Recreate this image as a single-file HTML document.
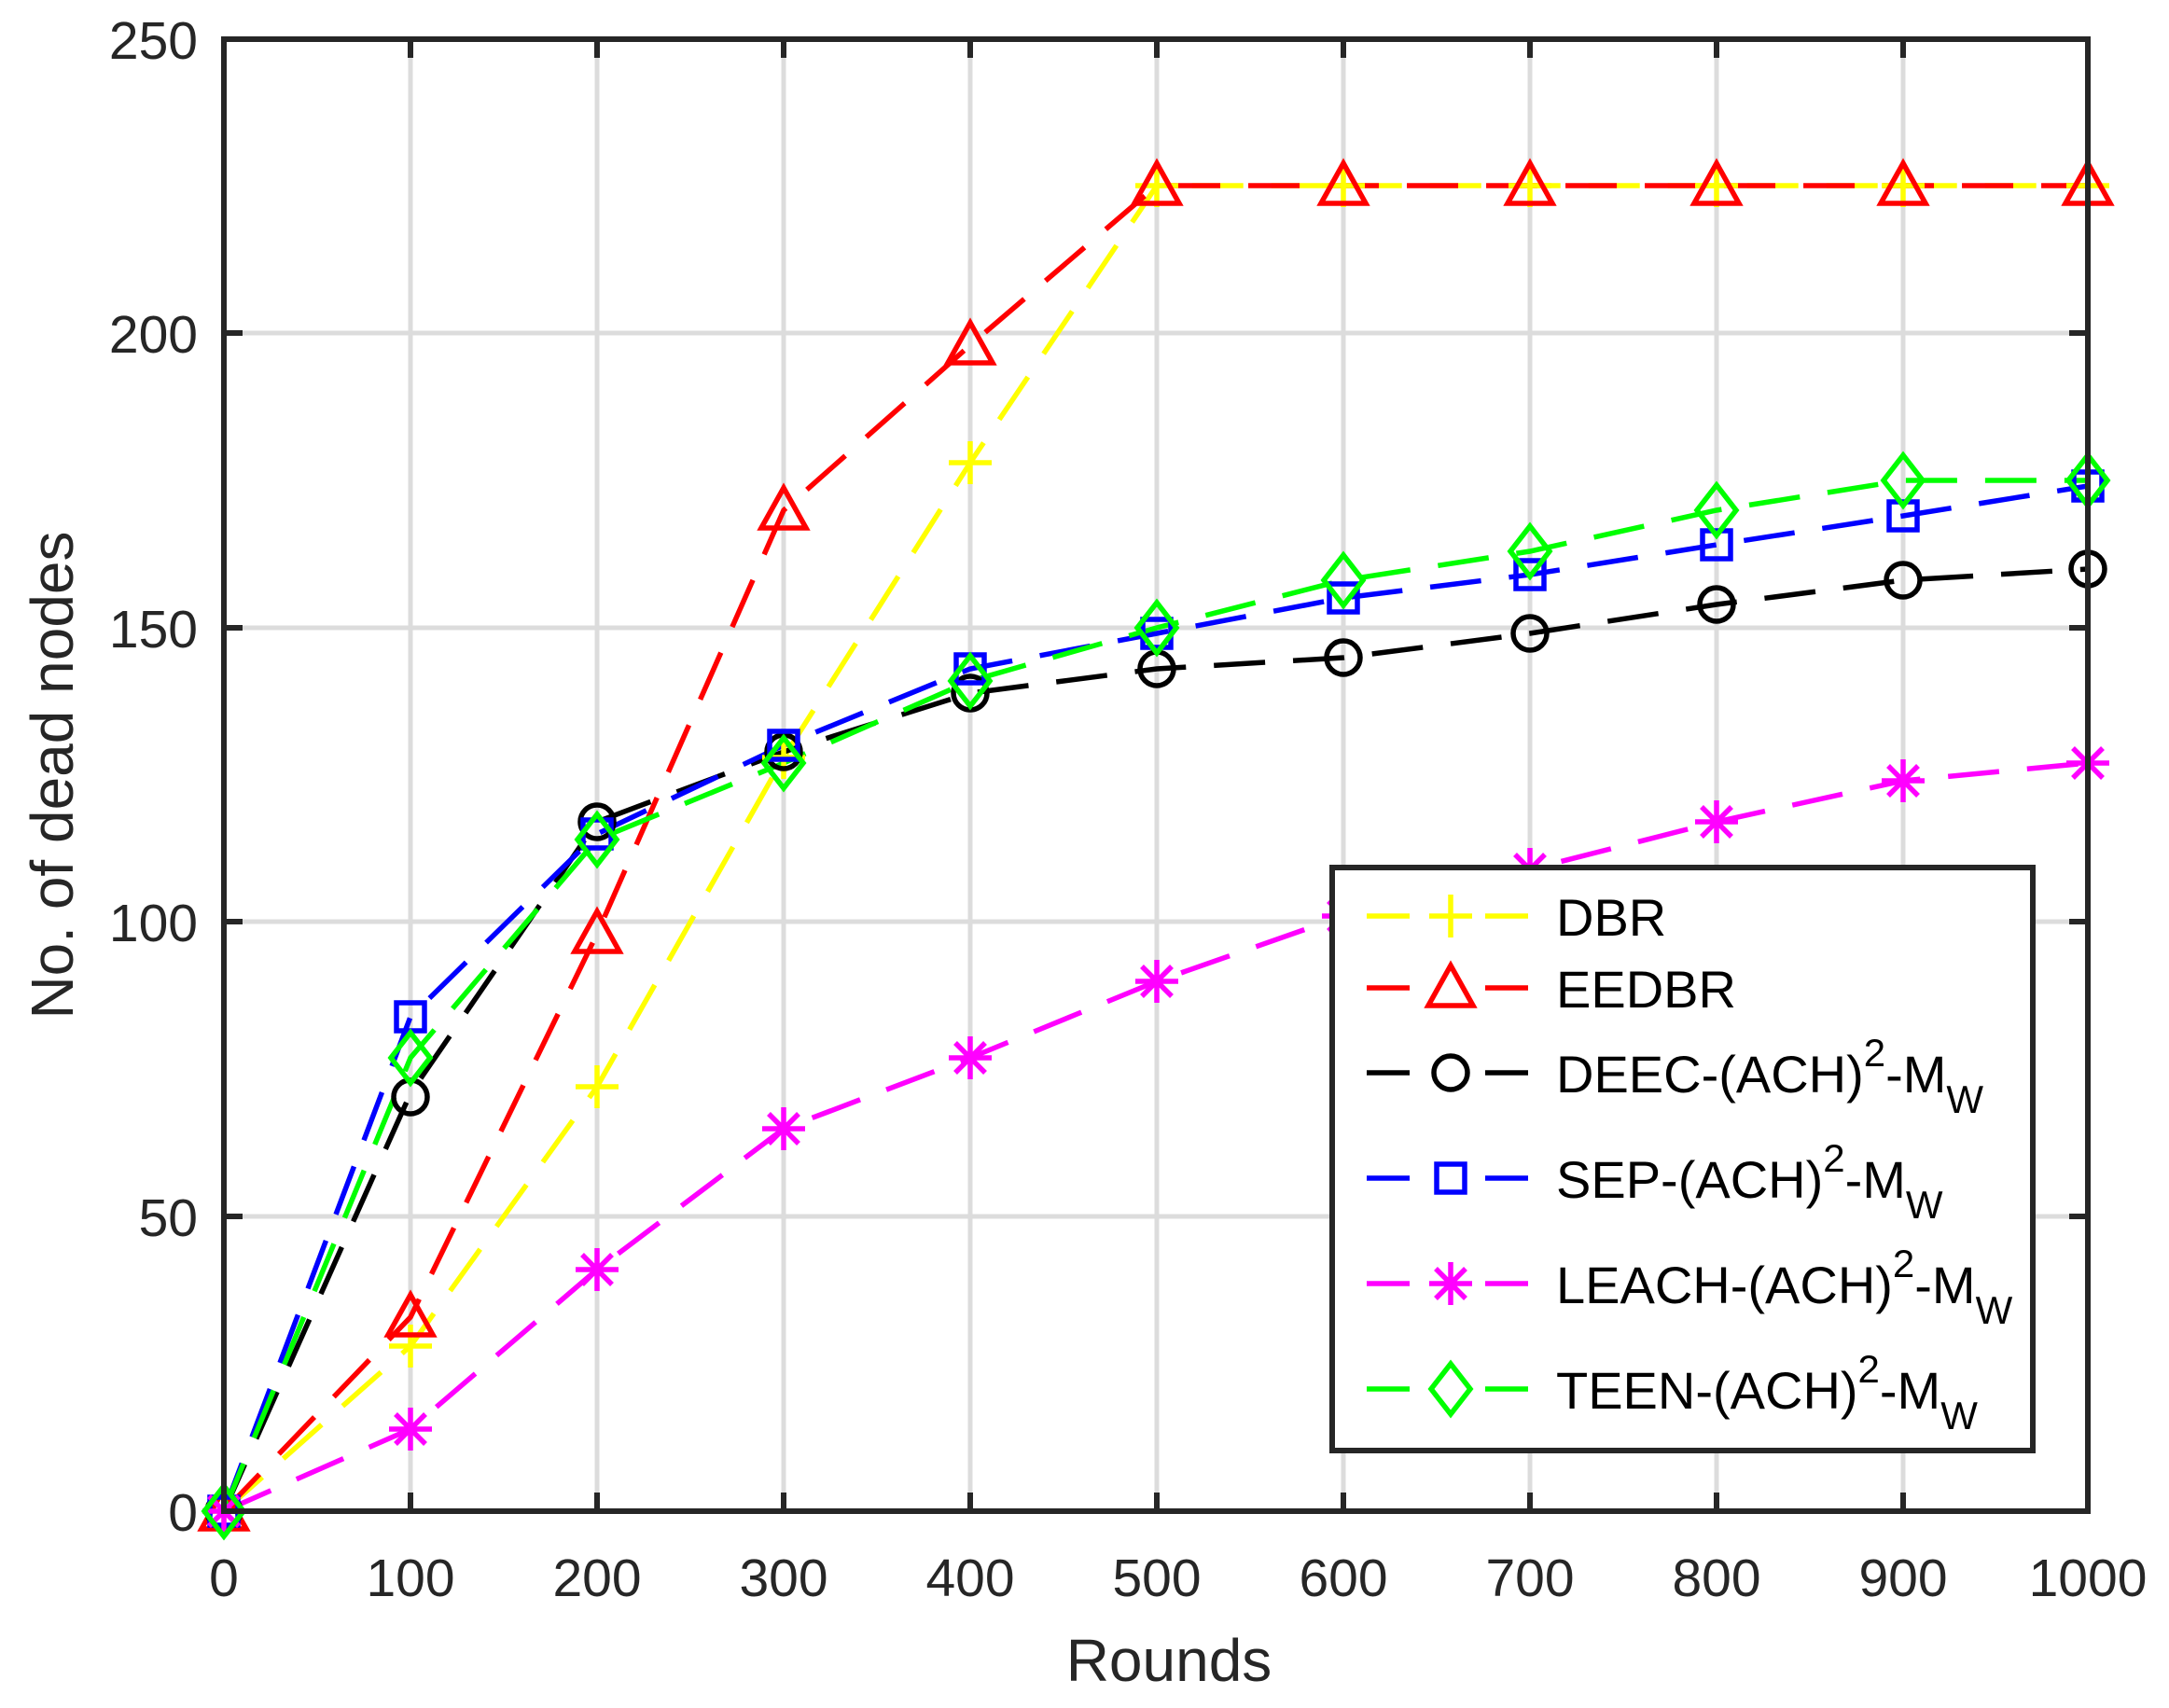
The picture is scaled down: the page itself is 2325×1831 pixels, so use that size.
<!DOCTYPE html>
<html><head><meta charset="utf-8"><style>
body{margin:0;background:#fff}
svg{display:block}
text{font-family:"Liberation Sans",Arial,sans-serif;fill:#262626}
</style></head><body>
<svg width="2325" height="1831" viewBox="0 0 2325 1831" xmlns="http://www.w3.org/2000/svg">
<defs>
<g id="plus"><path d="M-23,0H23M0,-23V23" stroke-width="5.5" fill="none"/></g>
<g id="tri"><path d="M0,-24L24,19H-24Z" stroke-width="5.5" fill="none"/></g>
<g id="circ"><circle r="18" stroke-width="5.5" fill="none"/></g>
<g id="sq"><rect x="-15" y="-15" width="30" height="30" stroke-width="5.5" fill="none"/></g>
<g id="star"><path d="M-23,0H23M0,-23V23M-16,-16L16,16M-16,16L16,-16" stroke-width="5.5" fill="none"/></g>
<g id="dia"><path d="M0,-27L21,0L0,27L-21,0Z" stroke-width="5.5" fill="none"/></g>
</defs>
<g stroke="#dcdcdc" stroke-width="5">
<path d="M440,42V1620M640,42V1620M840,42V1620M1040,42V1620M1240,42V1620M1440,42V1620M1640,42V1620M1840,42V1620M2040,42V1620"/>
<path d="M240,1304H2238M240,988H2238M240,673H2238M240,357H2238"/>
</g>
<g stroke="#262626" stroke-width="6">
<path d="M440,1620v-20M640,1620v-20M840,1620v-20M1040,1620v-20M1240,1620v-20M1440,1620v-20M1640,1620v-20M1840,1620v-20M2040,1620v-20"/>
<path d="M440,42v20M640,42v20M840,42v20M1040,42v20M1240,42v20M1440,42v20M1640,42v20M1840,42v20M2040,42v20"/>
<path d="M240,1304h20M240,988h20M240,673h20M240,357h20M2238,1304h-20M2238,988h-20M2238,673h-20M2238,357h-20"/>
</g>
<g fill="none" stroke-width="5.5" stroke-dasharray="55 30">
<polyline stroke="#ffff00" points="240,1620 440,1443 640,1165 840,812 1040,496 1240,199 1440,199 1640,199 1840,199 2040,199 2238,199"/>
<polyline stroke="#ff0000" points="240,1620 440,1412 640,1001 840,547 1040,370 1240,199 1440,199 1640,199 1840,199 2040,199 2238,199"/>
<polyline stroke="#000000" points="240,1620 440,1172 640,881 840,806 1040,743 1240,717 1440,705 1640,679 1840,648 2040,622 2238,610"/>
<polyline stroke="#0000ff" points="240,1620 440,1090 640,894 840,799 1040,717 1240,679 1440,641 1640,616 1840,584 2040,553 2238,521"/>
<polyline stroke="#ff00ff" points="240,1620 440,1532 640,1361 840,1210 1040,1134 1240,1052 1440,982 1640,932 1840,881 2040,837 2238,818"/>
<polyline stroke="#00ff00" points="240,1620 440,1134 640,900 840,818 1040,730 1240,673 1440,622 1640,591 1840,547 2040,515 2238,515"/>
</g>
<g stroke="#ffff00"><use href="#plus" x="240" y="1620"/><use href="#plus" x="440" y="1443"/><use href="#plus" x="640" y="1165"/><use href="#plus" x="840" y="812"/><use href="#plus" x="1040" y="496"/><use href="#plus" x="1240" y="199"/><use href="#plus" x="1440" y="199"/><use href="#plus" x="1640" y="199"/><use href="#plus" x="1840" y="199"/><use href="#plus" x="2040" y="199"/><use href="#plus" x="2238" y="199"/></g>
<g stroke="#ff0000"><use href="#tri" x="240" y="1620"/><use href="#tri" x="440" y="1412"/><use href="#tri" x="640" y="1001"/><use href="#tri" x="840" y="547"/><use href="#tri" x="1040" y="370"/><use href="#tri" x="1240" y="199"/><use href="#tri" x="1440" y="199"/><use href="#tri" x="1640" y="199"/><use href="#tri" x="1840" y="199"/><use href="#tri" x="2040" y="199"/><use href="#tri" x="2238" y="199"/></g>
<g stroke="#000"><use href="#circ" x="240" y="1620"/><use href="#circ" x="440" y="1176"/><use href="#circ" x="640" y="881"/><use href="#circ" x="840" y="806"/><use href="#circ" x="1040" y="743"/><use href="#circ" x="1240" y="717"/><use href="#circ" x="1440" y="705"/><use href="#circ" x="1640" y="679"/><use href="#circ" x="1840" y="648"/><use href="#circ" x="2040" y="622"/><use href="#circ" x="2238" y="610"/></g>
<g stroke="#0000ff"><use href="#sq" x="240" y="1620"/><use href="#sq" x="440" y="1090"/><use href="#sq" x="640" y="894"/><use href="#sq" x="840" y="799"/><use href="#sq" x="1040" y="717"/><use href="#sq" x="1240" y="679"/><use href="#sq" x="1440" y="641"/><use href="#sq" x="1640" y="616"/><use href="#sq" x="1840" y="584"/><use href="#sq" x="2040" y="553"/><use href="#sq" x="2238" y="521"/></g>
<g stroke="#ff00ff"><use href="#star" x="240" y="1620"/><use href="#star" x="440" y="1532"/><use href="#star" x="640" y="1361"/><use href="#star" x="840" y="1210"/><use href="#star" x="1040" y="1134"/><use href="#star" x="1240" y="1052"/><use href="#star" x="1440" y="982"/><use href="#star" x="1640" y="932"/><use href="#star" x="1840" y="881"/><use href="#star" x="2040" y="837"/><use href="#star" x="2238" y="818"/></g>
<g stroke="#00ff00"><use href="#dia" x="240" y="1620"/><use href="#dia" x="440" y="1134"/><use href="#dia" x="640" y="900"/><use href="#dia" x="840" y="818"/><use href="#dia" x="1040" y="730"/><use href="#dia" x="1240" y="673"/><use href="#dia" x="1440" y="622"/><use href="#dia" x="1640" y="591"/><use href="#dia" x="1840" y="547"/><use href="#dia" x="2040" y="515"/><use href="#dia" x="2238" y="515"/></g>
<rect x="240" y="42" width="1998" height="1578" fill="none" stroke="#262626" stroke-width="6"/>
<g font-size="57" text-anchor="end">
<text x="212" y="1641">0</text><text x="212" y="1325">50</text><text x="212" y="1009">100</text><text x="212" y="694">150</text><text x="212" y="378">200</text><text x="212" y="63">250</text>
</g>
<g font-size="57" text-anchor="middle">
<text x="240" y="1711">0</text><text x="440" y="1711">100</text><text x="640" y="1711">200</text><text x="840" y="1711">300</text><text x="1040" y="1711">400</text><text x="1240" y="1711">500</text><text x="1440" y="1711">600</text><text x="1640" y="1711">700</text><text x="1840" y="1711">800</text><text x="2040" y="1711">900</text><text x="2238" y="1711">1000</text>
</g>
<text x="1253" y="1802" font-size="64" text-anchor="middle">Rounds</text>
<text transform="translate(78,831) rotate(-90)" font-size="64" text-anchor="middle">No. of dead nodes</text>
<rect x="1428" y="930" width="751" height="625" fill="#fff" stroke="#262626" stroke-width="6"/>
<g stroke-width="5.5">
<path d="M1465,982h46M1592,982h46" stroke="#ffff00"/><use href="#plus" x="1555" y="982" stroke="#ffff00"/>
<path d="M1465,1059h46M1592,1059h46" stroke="#ff0000"/><use href="#tri" x="1555" y="1059" stroke="#ff0000"/>
<path d="M1465,1150h46M1592,1150h46" stroke="#000"/><use href="#circ" x="1555" y="1150" stroke="#000"/>
<path d="M1465,1263h46M1592,1263h46" stroke="#0000ff"/><use href="#sq" x="1555" y="1263" stroke="#0000ff"/>
<path d="M1465,1376h46M1592,1376h46" stroke="#ff00ff"/><use href="#star" x="1555" y="1376" stroke="#ff00ff"/>
<path d="M1465,1489h46M1592,1489h46" stroke="#00ff00"/><use href="#dia" x="1555" y="1489" stroke="#00ff00"/>
</g>
<g font-size="56">
<text x="1668" y="1003" style="fill:#000">DBR</text>
<text x="1668" y="1080" style="fill:#000">EEDBR</text>
<text x="1668" y="1171" style="fill:#000">DEEC-(ACH)<tspan font-size="42" dy="-28">2</tspan><tspan dy="28">-M</tspan><tspan font-size="42" dy="22">W</tspan></text>
<text x="1668" y="1284" style="fill:#000">SEP-(ACH)<tspan font-size="42" dy="-28">2</tspan><tspan dy="28">-M</tspan><tspan font-size="42" dy="22">W</tspan></text>
<text x="1668" y="1397" style="fill:#000">LEACH-(ACH)<tspan font-size="42" dy="-28">2</tspan><tspan dy="28">-M</tspan><tspan font-size="42" dy="22">W</tspan></text>
<text x="1668" y="1510" style="fill:#000">TEEN-(ACH)<tspan font-size="42" dy="-28">2</tspan><tspan dy="28">-M</tspan><tspan font-size="42" dy="22">W</tspan></text>
</g>
</svg>
</body></html>
